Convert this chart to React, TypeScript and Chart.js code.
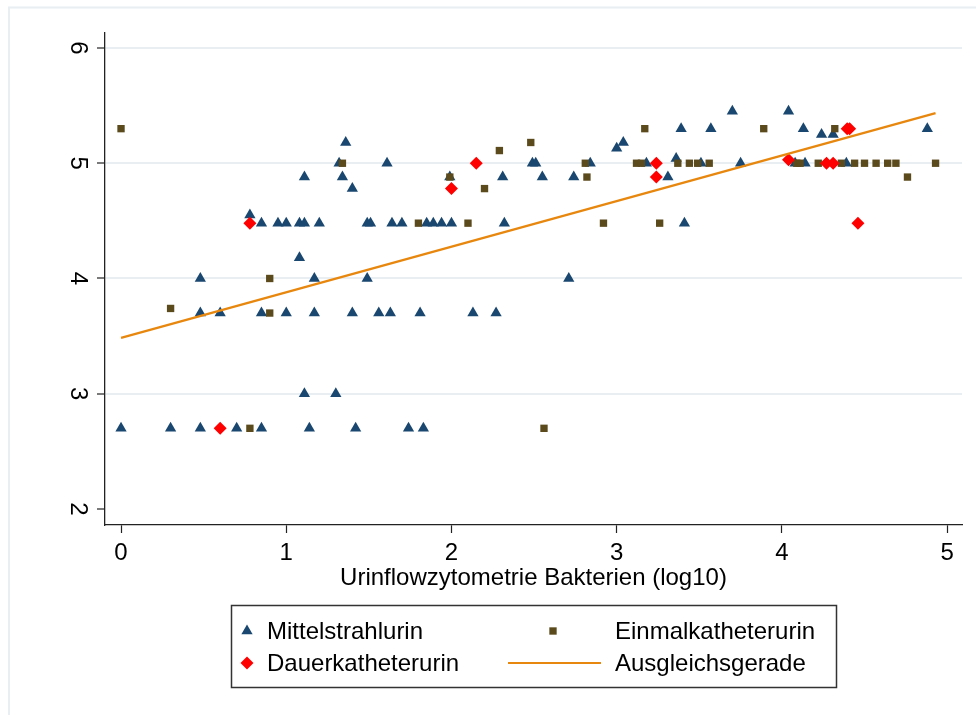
import React, { useEffect, useRef } from "react";
import { Chart, registerables } from "chart.js";

Chart.register(...registerables);

// ---- data ----
const seriesLabels = ["Mittelstrahlurin", "Einmalkatheterurin", "Dauerkatheterurin", "Ausgleichsgerade"];
const xTitle = "Urinflowzytometrie Bakterien (log10)";
const xTicks = [0, 1, 2, 3, 4, 5];
const yTicks = [2, 3, 4, 5, 6];

const mittelX = [
  0.0, 0.3, 0.48, 0.7, 0.85, 1.14, 1.42, 1.74, 1.83,
  1.11, 1.3,
  0.48, 0.6, 0.85, 1.0, 1.17, 1.4, 1.56, 1.63, 1.81, 2.13, 2.27,
  0.48, 1.17, 1.49, 2.71,
  1.08,
  0.85, 0.95, 1.0, 1.08, 1.11, 1.2, 1.49, 1.51, 1.64, 1.7, 1.85, 1.89, 1.94, 2.0, 2.32, 3.41,
  0.78,
  1.4,
  1.11, 1.34, 1.99, 2.31, 2.55, 2.74, 3.31,
  1.32, 1.61, 2.49, 2.51, 2.84, 3.18, 3.51, 3.75, 4.08, 4.14, 4.39,
  3.36,
  3.0,
  1.36, 3.04,
  4.24, 4.31,
  3.39, 3.57, 4.13, 4.88,
  3.7, 4.04,
];
const mittelY = [
  2.7, 2.7, 2.7, 2.7, 2.7, 2.7, 2.7, 2.7, 2.7,
  3.0, 3.0,
  3.7, 3.7, 3.7, 3.7, 3.7, 3.7, 3.7, 3.7, 3.7, 3.7, 3.7,
  4.0, 4.0, 4.0, 4.0,
  4.18,
  4.48, 4.48, 4.48, 4.48, 4.48, 4.48, 4.48, 4.48, 4.48, 4.48, 4.48, 4.48, 4.48, 4.48, 4.48, 4.48,
  4.55,
  4.78,
  4.88, 4.88, 4.88, 4.88, 4.88, 4.88, 4.88,
  5.0, 5.0, 5.0, 5.0, 5.0, 5.0, 5.0, 5.0, 5.0, 5.0, 5.0,
  5.04,
  5.13,
  5.18, 5.18,
  5.25, 5.25,
  5.3, 5.3, 5.3, 5.3,
  5.45, 5.45,
];

const einmalX = [
  0.0, 0.3, 0.78, 0.9, 0.9, 1.34, 1.8, 1.99, 2.1, 2.2, 2.29, 2.48, 2.56,
  2.81, 2.82, 2.92, 3.12, 3.15, 3.17, 3.26, 3.37, 3.44, 3.49, 3.56, 3.89,
  4.09, 4.11, 4.22, 4.32, 4.36, 4.44, 4.5, 4.57, 4.64, 4.69, 4.76, 4.93,
];
const einmalY = [
  5.3, 3.74, 2.7, 4.0, 3.7, 5.0, 4.48, 4.88, 4.48, 4.78, 5.11, 5.18, 2.7,
  5.0, 4.88, 4.48, 5.0, 5.0, 5.3, 4.48, 5.0, 5.0, 5.0, 5.0, 5.3,
  5.0, 5.0, 5.0, 5.3, 5.0, 5.0, 5.0, 5.0, 5.0, 5.0, 4.88, 5.0,
];

const dauerX = [0.6, 0.78, 2.0, 2.15, 3.24, 3.24, 4.04, 4.27, 4.31, 4.395, 4.41, 4.46];
const dauerY = [2.7, 4.48, 4.78, 5.0, 5.0, 4.88, 5.03, 5.0, 5.0, 5.3, 5.3, 4.48];

const fitX = [0, 4.93];
const fitY = [3.485, 5.435];

// ---- style ----
const FONT = "'Liberation Sans', Arial, sans-serif";
const NAVY = "#1a476f";
const BROWN = "#5b4a1c";
const RED = "#ff0000";
const ORANGE = "#e8870e";
const GRID = "#e8eef1";
const AXIS = "#222222";

function pts(xs: number[], ys: number[]) {
  return xs.map((x, i) => ({ x, y: ys[i] }));
}

function drawShape(ctx: CanvasRenderingContext2D, style: string, x: number, y: number, r: number, color: string) {
  ctx.fillStyle = color;
  ctx.beginPath();
  if (style === "triangle") {
    const w = r * Math.sin((2 * Math.PI) / 3);
    ctx.moveTo(x, y - r);
    ctx.lineTo(x + w, y + r / 2);
    ctx.lineTo(x - w, y + r / 2);
    ctx.closePath();
  } else if (style === "rect") {
    const s = r * Math.SQRT1_2;
    ctx.rect(x - s, y - s, 2 * s, 2 * s);
  } else {
    ctx.moveTo(x - r, y);
    ctx.lineTo(x, y - r);
    ctx.lineTo(x + r, y);
    ctx.lineTo(x, y + r);
    ctx.closePath();
  }
  ctx.fill();
}

const framePlugin = {
  id: "frame",
  beforeDraw(chart: any) {
    const ctx = chart.ctx as CanvasRenderingContext2D;
    ctx.save();
    ctx.fillStyle = "#ffffff";
    ctx.fillRect(0, 0, chart.width, chart.height);
    ctx.strokeStyle = GRID;
    ctx.lineWidth = 2;
    ctx.beginPath();
    ctx.moveTo(9, chart.height);
    ctx.lineTo(9, 7.5);
    ctx.lineTo(chart.width, 7.5);
    ctx.stroke();
    ctx.restore();
  },
};

const legendPlugin = {
  id: "stataLegend",
  afterDraw(chart: any) {
    const ctx = chart.ctx as CanvasRenderingContext2D;
    ctx.save();
    ctx.strokeStyle = "#333333";
    ctx.lineWidth = 1.5;
    ctx.strokeRect(231.5, 605.5, 605, 82);
    const row1 = 631;
    const row2 = 663;
    drawShape(ctx, "triangle", 247, row1, 6.5, NAVY);
    drawShape(ctx, "rect", 553, row1, 5.2, BROWN);
    drawShape(ctx, "rectRot", 247, row2, 6.5, RED);
    ctx.strokeStyle = ORANGE;
    ctx.lineWidth = 2.2;
    ctx.beginPath();
    ctx.moveTo(508, row2);
    ctx.lineTo(601, row2);
    ctx.stroke();
    ctx.fillStyle = "#000000";
    ctx.font = `24px ${FONT}`;
    ctx.textBaseline = "middle";
    ctx.textAlign = "left";
    ctx.fillText(seriesLabels[0], 267, row1 + 1);
    ctx.fillText(seriesLabels[1], 615, row1 + 1);
    ctx.fillText(seriesLabels[2], 267, row2 + 1);
    ctx.fillText(seriesLabels[3], 615, row2 + 1);
    ctx.restore();
  },
};

export default function App() {
  const ref = useRef<HTMLCanvasElement>(null);

  useEffect(() => {
    document.body.style.margin = "0";
    const canvas = ref.current;
    if (!canvas) return;
    const chart = new Chart(canvas, {
      type: "scatter",
      data: {
        datasets: [
          {
            label: seriesLabels[3],
            data: pts(fitX, fitY),
            showLine: true,
            borderColor: ORANGE,
            borderWidth: 2.2,
            pointRadius: 0,
            order: 0,
          } as any,
          {
            label: seriesLabels[2],
            data: pts(dauerX, dauerY),
            pointStyle: "rectRot",
            pointRadius: 6.5,
            backgroundColor: RED,
            borderColor: RED,
            borderWidth: 0,
            order: 1,
          },
          {
            label: seriesLabels[1],
            data: pts(einmalX, einmalY),
            pointStyle: "rect",
            pointRadius: 5.2,
            backgroundColor: BROWN,
            borderColor: BROWN,
            borderWidth: 0,
            order: 2,
          },
          {
            label: seriesLabels[0],
            data: pts(mittelX, mittelY),
            pointStyle: "triangle",
            pointRadius: 6.5,
            backgroundColor: NAVY,
            borderColor: NAVY,
            borderWidth: 0,
            order: 3,
          },
        ],
      },
      options: {
        animation: false,
        responsive: false,
        events: [],
        layout: { padding: { left: 0, top: 33, right: 14, bottom: 122.6 } },
        plugins: { legend: { display: false }, tooltip: { enabled: false } },
        scales: {
          x: {
            type: "linear",
            position: "bottom",
            min: -0.097,
            max: 5.09,
            afterBuildTicks: (s: any) => {
              s.ticks = xTicks.map((v) => ({ value: v }));
            },
            afterFit: (s: any) => {
              s.height = 67.4;
            },
            grid: {
              display: true,
              drawOnChartArea: false,
              drawTicks: true,
              tickLength: 8,
              tickColor: AXIS,
              tickWidth: 1.2,
            },
            border: { display: true, color: AXIS, width: 1.3 },
            ticks: {
              autoSkip: false,
              minRotation: 0,
              maxRotation: 0,
              padding: 6,
              color: "#000000",
              font: { family: FONT, size: 24 },
            },
            title: {
              display: true,
              text: xTitle,
              color: "#000000",
              font: { family: FONT, size: 24 },
              padding: 0,
            },
          },
          y: {
            type: "linear",
            min: 1.861,
            max: 6.13,
            afterBuildTicks: (s: any) => {
              s.ticks = yTicks.map((v) => ({ value: v }));
            },
            afterFit: (s: any) => {
              s.width = 105;
            },
            grid: {
              display: true,
              drawOnChartArea: true,
              drawTicks: true,
              tickLength: 8,
              color: (c: any) => (c.tick && c.tick.value === yTicks[0] ? "rgba(0,0,0,0)" : GRID),
              lineWidth: 2,
              tickColor: AXIS,
              tickWidth: 1.2,
            },
            border: { display: true, color: AXIS, width: 1.3 },
            ticks: {
              autoSkip: false,
              minRotation: -90,
              maxRotation: -90,
              crossAlign: "center",
              padding: 13,
              color: "#000000",
              font: { family: FONT, size: 24 },
            },
          },
        },
      },
      plugins: [framePlugin, legendPlugin],
    });
    return () => chart.destroy();
  }, []);

  return <canvas ref={ref} width={976} height={715} style={{ display: "block" }} />;
}
